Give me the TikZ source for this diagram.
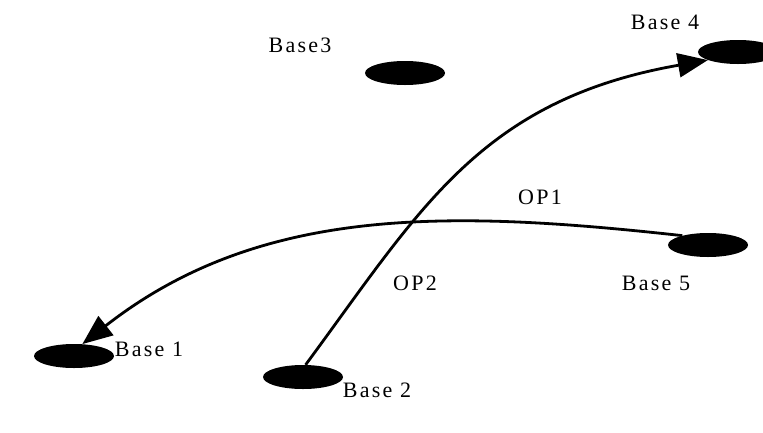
\documentclass[tikz,border=0pt]{standalone}
\usepackage{fontspec}
\setmainfont{Liberation Serif}[LetterSpace=10]
\usetikzlibrary{shapes.geometric,arrows.meta}
\begin{document}
\begin{tikzpicture}[x=1pt,y=-1pt,
  base/.style={ellipse,fill=black,minimum width=80pt,minimum height=24pt,inner sep=0pt},
  lbl/.style={font=\fontsize{22}{26}\selectfont,inner sep=0pt},
  route/.style={line width=2.8pt,-{Triangle[length=30pt,width=24pt]}}]
\useasboundingbox (0,0) rectangle (763,432);
\node[base] (b1) at (74,356) {};
\node[base] (b2) at (303,377) {};
\node[base] (b3) at (405,73) {};
\node[base] (b4) at (738,52) {};
\node[base] (b5) at (708,245) {};
\node[lbl] (l1) at (149,349) {Base 1};
\node[lbl] (l2) at (377,390) {Base 2};
\node[lbl] (l3) at (300,45) {Base3};
\node[lbl] (l4) at (665,22) {Base 4};
\node[lbl] (l5) at (656,283) {Base 5};
\node[lbl] (op1) at (540,197) {OP1};
\node[lbl] (op2) at (415,283) {OP2};
\draw[route] (b2.78) .. controls (420,210) and (480,100) .. (b4.195);
\draw[route] (b5.160) .. controls (450,210) and (260,205) .. (b1.55);
\end{tikzpicture}
\end{document}
